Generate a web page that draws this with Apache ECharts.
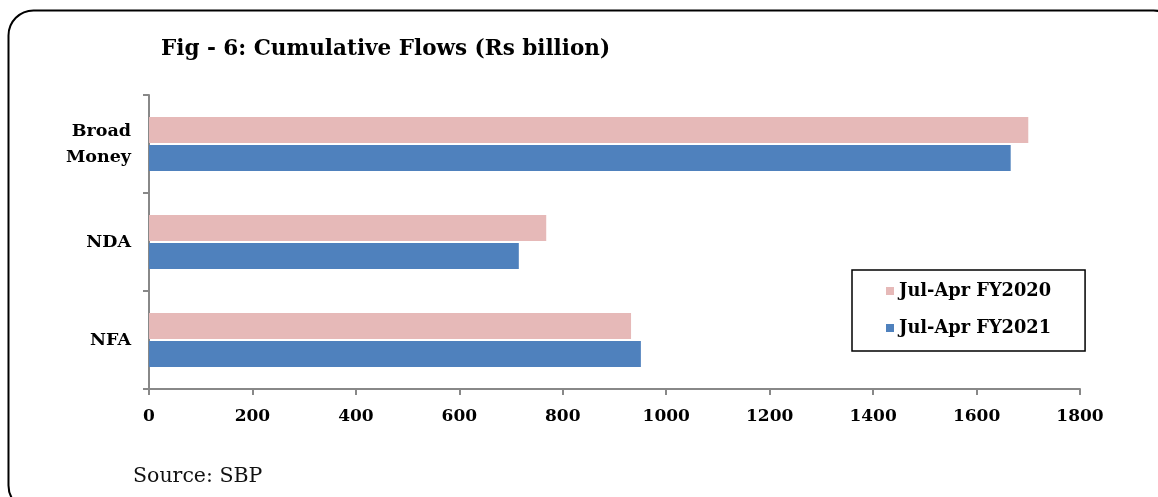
<!DOCTYPE html>
<html><head><meta charset="utf-8">
<script src="https://cdn.jsdelivr.net/npm/echarts@6/dist/echarts.min.js"></script>
<style>html,body{margin:0;padding:0;background:#fff}#c{width:1158px;height:497px}</style>
</head><body><div id="c"></div>
<script>
const categories = ['Broad\nMoney', 'NDA', 'NFA'];
const seriesNames = ['Jul-Apr FY2020', 'Jul-Apr FY2021'];
const fy2020 = [1700, 768, 932];
const fy2021 = [1666, 715, 951];
const xTicks = [0, 200, 400, 600, 800, 1000, 1200, 1400, 1600, 1800];

const serif = '"DejaVu Serif", serif';
const chart = echarts.init(document.getElementById('c'));
chart.setOption({
  animation: false,
  backgroundColor: '#fff',
  graphic: [
    {type: 'rect', shape: {x: 8.5, y: 10.5, width: 1170, height: 500, r: 25},
     style: {fill: 'none', stroke: '#000', lineWidth: 2}, z: -1},
    {type: 'text', left: 133, top: 466,
     style: {text: 'Source: SBP', font: '20.5px "DejaVu Serif", serif', fill: '#111'}}
  ],
  title: {
    text: 'Fig - 6: Cumulative Flows (Rs billion)',
    left: 156, top: 33,
    textStyle: {fontFamily: serif, fontWeight: 'bold', fontSize: 21.5, color: '#000'}
  },
  legend: {
    orient: 'vertical',
    left: 852, top: 270,
    data: seriesNames,
    itemWidth: 8, itemHeight: 8,
    itemGap: 19,
    padding: [12, 34, 14, 34],
    borderColor: '#000', borderWidth: 1.5,
    icon: 'rect',
    textStyle: {fontFamily: serif, fontWeight: 'bold', fontSize: 17.8, color: '#000'}
  },
  grid: {left: 149, right: 78, top: 95, bottom: 108, containLabel: false},
  xAxis: {
    type: 'value', min: xTicks[0], max: xTicks[xTicks.length - 1], interval: 200,
    splitLine: {show: false},
    axisLine: {show: true, lineStyle: {color: '#888', width: 2}},
    axisTick: {show: true, length: 6, lineStyle: {color: '#888', width: 2}},
    axisLabel: {margin: 19, fontFamily: serif, fontWeight: 'bold', fontSize: 17, color: '#000',
                formatter: v => String(v)}
  },
  yAxis: {
    type: 'category', data: categories, inverse: true,
    axisLine: {show: true, lineStyle: {color: '#888', width: 2}},
    axisTick: {show: true, length: 6, lineStyle: {color: '#888', width: 2}},
    axisLabel: {margin: 18, fontFamily: serif, fontWeight: 'bold', fontSize: 17.5, color: '#000', lineHeight: 26, align: 'right'}
  },
  series: [
    {name: seriesNames[0], type: 'bar', data: fy2020, barWidth: 26, barGap: '8%',
     itemStyle: {color: '#E6B9B8'}},
    {name: seriesNames[1], type: 'bar', data: fy2021, barWidth: 26, barGap: '8%',
     itemStyle: {color: '#4F81BD'}}
  ]
});
</script></body></html>
